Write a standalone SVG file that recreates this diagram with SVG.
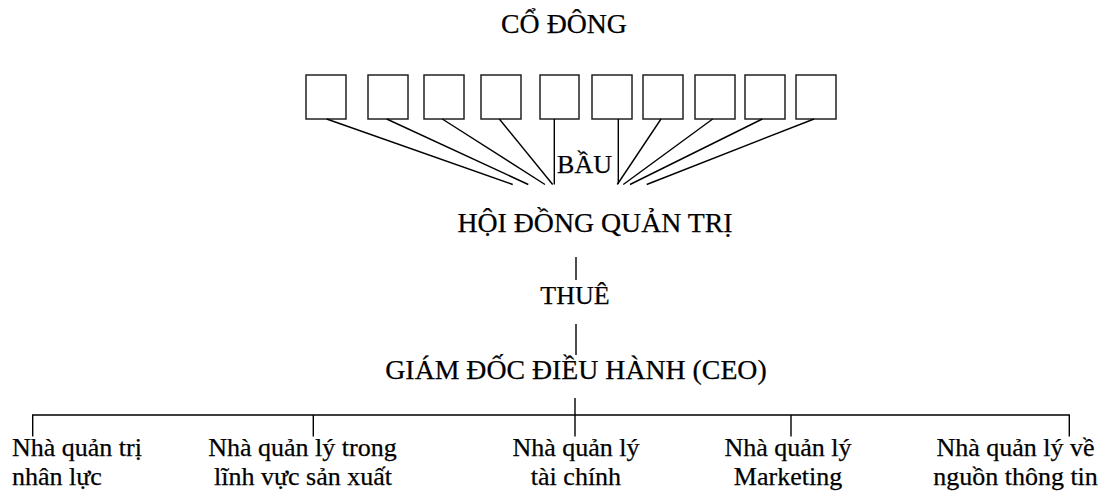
<svg xmlns="http://www.w3.org/2000/svg" width="1108" height="500" viewBox="0 0 1108 500">
  <style>
    text { font-family: 'Liberation Serif', 'Times New Roman', serif; fill: #000; stroke: #000; stroke-width: 0.25; }
    .head { font-size: 27.8px; text-anchor: middle; }
    .lbl { font-size: 26px; text-anchor: middle; }
    .sub { font-size: 26px; }
    .box { fill: #fff; stroke: #222; stroke-width: 1.5; }
    .ln { stroke: #000; stroke-width: 1.4; fill: none; }
  </style>
  <rect width="1108" height="500" fill="#fff"/>

  <g id="shareholders">
    <text class="head" x="564" y="33">CỔ ĐÔNG</text>
  </g>

  <g id="holder-boxes">
    <rect id="holder-1" class="box" x="306" y="75" width="40" height="44"/>
    <rect id="holder-2" class="box" x="368" y="75" width="40" height="44"/>
    <rect id="holder-3" class="box" x="424" y="75" width="40" height="44"/>
    <rect id="holder-4" class="box" x="481" y="75" width="40" height="44"/>
    <rect id="holder-5" class="box" x="540" y="75" width="39" height="44"/>
    <rect id="holder-6" class="box" x="592" y="75" width="40" height="44"/>
    <rect id="holder-7" class="box" x="643" y="75" width="40" height="44"/>
    <rect id="holder-8" class="box" x="695" y="75" width="40" height="44"/>
    <rect id="holder-9" class="box" x="745" y="75" width="40" height="44"/>
    <rect id="holder-10" class="box" x="796" y="75" width="40" height="44"/>
  </g>

  <g id="elect-label">
    <text class="lbl" x="584.5" y="172.5">BẦU</text>
  </g>

  <g id="board">
    <text class="head" x="595" y="231.5">HỘI ĐỒNG QUẢN TRỊ</text>
  </g>

  <g id="hire-label">
    <text class="lbl" x="575" y="304">THUÊ</text>
  </g>

  <g id="ceo">
    <text class="head" x="576" y="379">GIÁM ĐỐC ĐIỀU HÀNH (CEO)</text>
  </g>

  <g id="mgr-hr">
    <text class="sub" x="12" y="456">Nhà quản trị</text>
    <text class="sub" x="12" y="485">nhân lực</text>
  </g>
  <g id="mgr-production">
    <text class="lbl" x="302.5" y="456">Nhà quản lý trong</text>
    <text class="lbl" x="303" y="485">lĩnh vực sản xuất</text>
  </g>
  <g id="mgr-finance">
    <text class="lbl" x="576" y="456">Nhà quản lý</text>
    <text class="lbl" x="576" y="485">tài chính</text>
  </g>
  <g id="mgr-marketing">
    <text class="lbl" x="788" y="456">Nhà quản lý</text>
    <text class="lbl" x="788" y="485">Marketing</text>
  </g>
  <g id="mgr-information">
    <text class="lbl" x="1015.5" y="456">Nhà quản lý về</text>
    <text class="lbl" x="1015.5" y="485">nguồn thông tin</text>
  </g>

  <g id="connectors">
    <!-- shareholder votes fanning in toward the board -->
    <line class="ln" x1="326.7" y1="119" x2="512.7" y2="184.5"/>
    <line class="ln" x1="386.7" y1="119" x2="528.3" y2="184.5"/>
    <line class="ln" x1="442.3" y1="119" x2="545" y2="184.5"/>
    <line class="ln" x1="499.3" y1="119" x2="552.7" y2="184.5"/>
    <line class="ln" x1="554.3" y1="119" x2="554.3" y2="184.5"/>
    <line class="ln" x1="618.3" y1="119" x2="618.3" y2="184"/>
    <line class="ln" x1="661" y1="119" x2="617.3" y2="184.5"/>
    <line class="ln" x1="712.7" y1="119" x2="623.3" y2="184.5"/>
    <line class="ln" x1="762.3" y1="119" x2="630" y2="184.5"/>
    <line class="ln" x1="814" y1="119" x2="646.7" y2="184.5"/>

    <!-- board hires the CEO -->
    <line class="ln" x1="576" y1="257" x2="576" y2="280"/>
    <line class="ln" x1="576" y1="324" x2="576" y2="355"/>

    <!-- CEO to department managers -->
    <line class="ln" x1="575" y1="398" x2="575" y2="436.5"/>
    <polyline class="ln" points="32.7,436.5 32.7,415 1069.3,415 1069.3,436.5"/>
    <line class="ln" x1="313.3" y1="415" x2="313.3" y2="436.5"/>
    <line class="ln" x1="791" y1="415" x2="791" y2="436.5"/>
  </g>
</svg>
